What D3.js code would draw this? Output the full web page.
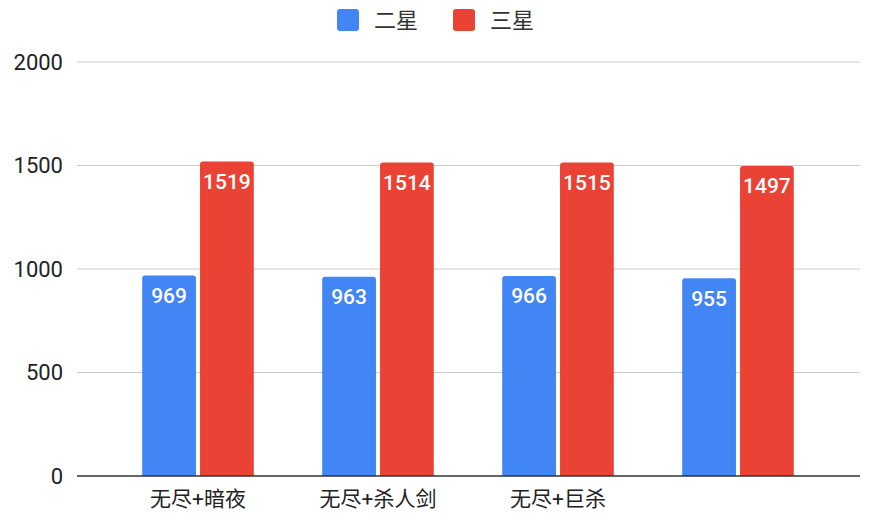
<!DOCTYPE html>
<html><head><meta charset="utf-8">
<script src="https://cdn.jsdelivr.net/npm/d3@7/dist/d3.min.js"></script>
<style>body{margin:0;background:#fff;}svg{display:block;font-family:Roboto,"Noto Sans CJK SC",sans-serif;}</style>
</head><body>
<svg id="c" width="890" height="532"></svg>
<script>
const categories = ["无尽+暗夜", "无尽+杀人剑", "无尽+巨杀", ""];
const seriesNames = ["二星", "三星"];
const erxing = [969, 963, 966, 955];
const sanxing = [1519, 1514, 1515, 1497];
const yTicks = [0, 500, 1000, 1500, 2000];
const colors = ["#4285F4", "#EA4335"];

const svg = d3.select("#c");
const y = d3.scaleLinear().domain([0, 2000]).range([476, 62]);
const x = d3.scaleBand().domain(d3.range(categories.length)).range([108, 828]).paddingInner(0.38).paddingOuter(0.19);
const sub = d3.scaleBand().domain([0, 1]).range([0, x.bandwidth()]).paddingInner(0.07);

// grid
svg.append("g").selectAll("line").data(yTicks.filter(d => d > 0)).join("line")
  .attr("x1", 77).attr("x2", 860).attr("y1", d => y(d)).attr("y2", d => y(d))
  .attr("stroke", "#cccccc").attr("stroke-width", 1);
svg.append("g").selectAll("text").data(yTicks).join("text")
  .attr("x", 63).attr("y", d => y(d)).attr("dy", "0.35em").attr("text-anchor", "end")
  .attr("font-size", 22).attr("fill", "#222").text(d => d);

const series = [erxing, sanxing];
function roundTop(x0, y0, w, h, r) {
  return `M${x0},${y0 + h}V${y0 + r}Q${x0},${y0} ${x0 + r},${y0}H${x0 + w - r}Q${x0 + w},${y0} ${x0 + w},${y0 + r}V${y0 + h}Z`;
}
series.forEach((vals, s) => {
  const g = svg.append("g");
  g.selectAll("path").data(vals).join("path")
    .attr("d", (v, i) => roundTop(x(i) + sub(s), y(v), sub.bandwidth(), y(0) - y(v), 3))
    .attr("fill", colors[s]);
  g.selectAll("text").data(vals).join("text")
    .attr("x", (v, i) => x(i) + sub(s) + sub.bandwidth() / 2)
    .attr("y", v => y(v) + 20).attr("dy", "0.35em").attr("text-anchor", "middle")
    .attr("font-size", 21).attr("font-weight", 500).attr("fill", "#fff").text(v => v);
});

// baseline
svg.append("line").attr("x1", 77).attr("x2", 860).attr("y1", y(0)).attr("y2", y(0))
  .attr("stroke", "#333").attr("stroke-width", 1.5);

// x labels
svg.append("g").selectAll("text").data(categories).join("text")
  .attr("x", (d, i) => x(i) + x.bandwidth() / 2).attr("y", 499).attr("dy", "0.35em")
  .attr("text-anchor", "middle").attr("font-size", 21).attr("fill", "#222").text(d => d);

// legend
const lg = svg.append("g");
const lx = [337, 453];
seriesNames.forEach((n, i) => {
  lg.append("rect").attr("x", lx[i]).attr("y", 9).attr("width", 22).attr("height", 22).attr("rx", 3).attr("fill", colors[i]);
  lg.append("text").attr("x", lx[i] + 37).attr("y", 20).attr("dy", "0.35em").attr("font-size", 22).attr("fill", "#333").text(n);
});
</script>
</body></html>
